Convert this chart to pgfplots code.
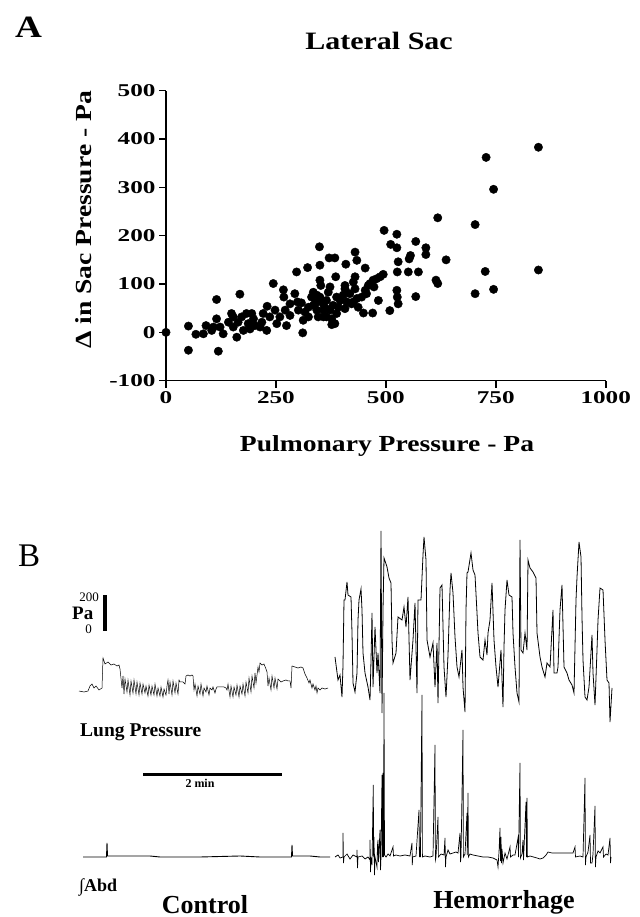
\documentclass[border=0pt]{standalone}
\usepackage{fontspec}
\setmainfont{Liberation Serif}
\newfontfamily\wide[FakeStretch=1.2]{Liberation Serif}
\newfontfamily\wider[FakeStretch=1.4]{Liberation Serif}
\usepackage{pgfplots}
\usepackage{pgfplotstable}
\pgfplotsset{compat=1.18}

% panel A: change in lateral sac pressure vs pulmonary pressure (Pa)
\pgfplotstableread{
x y
0 0
51 13
51 -37
68 -4
85 -3
91 14
104 4
108 11
115 68
115 28
119 -39
123 11
130 -3
142 21
149 39
153 11
153 32
161 -10
164 21
168 79
172 32
176 4
183 39
187 18
191 7
195 39
199 28
202 14
214 11
218 21
221 39
229 4
230 54
236 32
244 101
248 46
252 18
259 32
267 88
268 73
271 46
274 14
282 35
282 59
293 80
297 125
299 63
301 46
308 61
311 -1
312 25
316 42
322 134
324 32
324 52
331 73
335 56
335 83
339 59
343 77
343 63
343 46
346 32
349 177
350 139
350 108
350 73
352 97
354 63
358 46
358 59
358 32
364 49
365 66
365 32
369 83
371 154
373 94
373 46
377 16
377 28
380 56
384 154
384 18
386 115
388 73
388 39
392 52
396 66
403 77
407 97
407 49
407 90
409 141
411 63
418 80
422 59
426 63
426 104
430 166
430 115
430 90
434 149
434 70
437 52
445 73
449 40
453 133
453 87
456 80
460 97
464 101
470 40
471 108
473 94
479 111
483 66
487 115
494 120
496 211
509 45
511 182
525 203
525 175
525 87
526 125
526 73
528 146
528 59
551 125
553 152
556 159
568 188
568 74
574 125
591 175
591 161
614 108
618 101
618 237
637 150
703 223
703 80
726 126
728 362
745 296
745 89
847 383
847 129
}\sacdata

\begin{document}
\begin{tikzpicture}
\useasboundingbox (0,0) rectangle (639pt,917pt);

% ---------- panel A ----------
\node[anchor=base west, font=\wide\bfseries\fontsize{31}{31}\selectfont, inner sep=0] at (15pt,879pt) {A};
\node[anchor=base, font=\wide\bfseries\fontsize{25}{25}\selectfont, inner sep=0] at (379pt,867pt) {Lateral Sac};

\begin{axis}[
  at={(166pt,536.3pt)}, anchor=south west,
  scale only axis, width=439.7pt, height=290pt,
  xmin=0, xmax=1000, ymin=-100, ymax=500,
  axis lines*=left,
  axis line style={line width=1.6pt},
  tick style={line width=1.6pt, black},
  tick align=outside, major tick length=7pt,
  xtick={0,250,500,750,1000}, xticklabels={0,250,500,750,1000},
  ytick={-100,0,100,200,300,400,500}, yticklabels={-100,0,100,200,300,400,500},
  tick label style={font=\wider\bfseries\fontsize{18}{18}\selectfont},
  clip=false,
]
\addplot[only marks, mark=*, mark size=4.2pt, black] table {\sacdata};
\end{axis}

\node[anchor=base, font=\wide\bfseries\fontsize{23}{23}\selectfont, inner sep=0] at (387pt,465pt) {Pulmonary Pressure - Pa};
\node[anchor=base, rotate=90, font=\wide\bfseries\fontsize{23}{23}\selectfont, inner sep=0] at (91pt,697pt) {Δ in Sac Pressure - Pa};

% ---------- panel B ----------
\node[anchor=base west, font=\fontsize{33}{33}\selectfont, inner sep=0] at (18pt,350pt) {B};
\node[anchor=base east, font=\fontsize{13}{13}\selectfont, inner sep=0] at (99pt,315pt) {200};
\node[anchor=base west, font=\bfseries\fontsize{19}{19}\selectfont, inner sep=0] at (72pt,297pt) {Pa};
\node[anchor=base east, font=\fontsize{13}{13}\selectfont, inner sep=0] at (92pt,283pt) {0};
\node[anchor=base west, font=\bfseries\fontsize{19.5}{19.5}\selectfont, inner sep=0] at (80pt,180pt) {Lung Pressure};
\node[anchor=base, font=\bfseries\fontsize{12}{12}\selectfont, inner sep=0] at (200pt,129pt) {2 min};
\node[anchor=base west, font=\bfseries\fontsize{18}{18}\selectfont, inner sep=0] at (79pt,25pt) {∫Abd};
\node[anchor=base, font=\bfseries\fontsize{26}{26}\selectfont, inner sep=0] at (205pt,4pt) {Control};
\node[anchor=base, font=\bfseries\fontsize{26}{26}\selectfont, inner sep=0] at (504pt,9pt) {Hemorrhage};

% lung pressure traces (x: recording position, y: pressure, 36 units = 200 Pa)
\begin{axis}[
  at={(79pt,187pt)}, anchor=south west,
  scale only axis, width=536pt, height=205pt,
  xmin=79, xmax=615, ymin=-30, ymax=175,
  hide axis, clip=false,
]
\addplot[black, line width=0.5pt] coordinates {
(79,9) (84,8) (88,9) (90,14) (92,16) (94,12) (96,14) (99,10) (102,12) (103,42) (105,36) (108,38)
(111,35) (114,36) (117,34) (119,35) (120,31) (122,12) (123,24) (124,6) (125,21) (127,8) (128,20)
(130,5) (131,19) (133,7) (134,20) (136,6) (137,18) (139,5) (140,17) (142,6) (143,16) (145,7)
(146,14) (148,4) (149,15) (151,5) (152,14) (154,5) (155,16) (157,4) (158,12) (160,4) (161,13)
(163,3) (164,11) (166,5) (167,14) (168,20) (169,6) (170,18) (172,5) (173,19) (175,7) (176,17)
(178,6) (179,20) (180,18) (183,18) (185,16) (186,24) (188,25) (190,24) (192,25) (193,24) (194,10)
(195,16) (197,4) (198,14) (200,6) (201,16) (203,4) (204,12) (206,8) (207,14) (209,5) (210,12)
(212,10) (213,13) (215,7) (216,11) (217,13) (220,13) (224,13) (226,12) (227,10) (228,16) (230,3)
(231,14) (233,3) (234,13) (236,5) (237,15) (239,3) (240,14) (242,6) (243,16) (245,4) (246,18)
(248,7) (249,22) (251,8) (252,24) (254,12) (255,27) (256,17) (258,33) (259,28) (260,37)
(262,35) (264,36) (266,31) (267,28) (268,14) (269,22) (271,10) (272,24) (274,12) (275,22) (277,11)
(278,21) (279,20) (281,18) (283,19) (286,20) (288,19) (290,19) (291,12) (292,34) (295,33)
(298,32) (301,33) (303,32) (305,26) (307,22) (309,17) (310,20) (312,12) (313,16) (315,10) (316,14)
(317,7) (318,12) (320,10) (322,12) (325,11) (328,12)
};
\addplot[black, line width=0.8pt] coordinates {
(335,43) (338,20) (340,25) (342,3) (343,35) (344,100) (345,100) (347,118) (348,105) (351,103)
(352,67) (353,17) (355,8) (357,27) (358,80) (359,100) (361,111) (362,90) (363,47) (365,27) (368,13) (370,0)
(371,40) (372,87) (373,13) (375,73) (377,27) (378,47) (380,7) (381,169) (382,-13) (383,90) (384,142)
(387,133) (389,122) (391,117) (392,60) (393,37) (396,47) (398,83) (402,80) (404,93) (406,73)
(408,103) (410,20) (413,60) (415,97) (417,7) (418,100) (421,100) (423,145) (424,163) (426,140)
(427,60) (430,43) (433,57) (435,13) (437,57) (438,-3) (440,112) (442,115) (444,33) (446,3) (448,45)
(450,110) (451,127) (453,107) (455,63) (457,33) (459,23) (462,50) (463,13) (465,-12) (466,90) (467,127) (468,128)
(471,147) (473,130) (475,125) (477,87) (478,67) (480,43) (483,40) (485,60) (487,45) (488,67)
(490,80) (492,117) (494,60) (496,33) (498,13) (501,50) (503,-7) (504,53) (505,90) (507,120)
(509,105) (512,103) (513,67) (515,33) (517,7) (519,-2) (520,160) (521,50) (523,47) (525,67)
(527,50) (528,140) (530,132) (533,128) (536,122) (537,67) (540,43) (542,33) (545,23) (547,37)
(550,33) (553,90) (554,27) (557,27) (558,33) (560,90) (562,115) (564,33) (567,27) (569,20) (572,15)
(574,7) (576,100) (577,123) (579,158) (581,143) (582,83) (583,40) (585,3) (587,0) (589,13) (592,65)
(593,27) (595,-5) (597,50) (598,80) (600,112) (603,110) (605,60) (607,20) (609,17) (610,-22) (612,12)
};
% 200 Pa scale bar
\addplot[black, line width=3.5pt] coordinates {(105,69) (105,105)};
\end{axis}

% integrated abdominal EMG traces (arbitrary units)
\begin{axis}[
  at={(79pt,35pt)}, anchor=south west,
  scale only axis, width=536pt, height=192pt,
  xmin=79, xmax=615, ymin=-25, ymax=167,
  hide axis, clip=false,
]
\addplot[black, line width=0.9pt] coordinates {
(83,0) (106.5,0) (107,14) (107.5,1) (150,1) (160,0) (200,0) (240,1) (260,0) (291.5,0) (292,12) (292.5,1)
(310,1) (320,0) (330,0)
};
\addplot[black, line width=0.7pt] coordinates {
(335,0) (338,2) (340,-1) (343,0) (343,24) (343.5,-6) (344,0) (347,3) (350,-2) (353,2) (357,0)
(357,7) (357.5,-11) (358,0) (362,1) (365,-2) (368,0) (370,-3) (370,17) (370.5,-15) (371,0) (372,-8)
(373,55) (373.3,72) (373.6,0) (374,20) (374.5,-18) (375,0) (377,-10) (377.5,12) (378,17) (378.5,-5)
(380,27) (380.5,-13) (381,0) (382,82) (382.5,0) (383,84) (383.5,0) (384,164) (384.5,2) (386,0)
(388,3) (390,1) (393,10) (393.5,1) (396,2) (400,1) (405,2) (410,1) (412,14) (412.3,-8) (412.6,0)
(416,1) (419,47) (419.4,0) (420,10) (420.4,0) (422,162) (422.4,0) (425,1) (430,0) (433,1)
(435,112) (435.4,-3) (436,0) (438,40) (438.4,0) (441,3) (444,2) (445,19) (445.5,-10) (446,0)
(448,7) (450,3) (453,4) (456,5) (458,4) (460,24) (460.5,-5) (461,0) (463,127) (463.4,0) (465,3)
(467,44) (467.3,2) (468,64) (468.4,0) (470,3) (473,2) (478,1) (483,0) (488,0) (493,-1) (497,-3)
(498,-10) (499,5) (500,29) (500.5,-4) (501,20) (501.5,-6) (502,8) (503,-6) (505,4) (507,-2)
(510,10) (510.5,0) (513,2) (515,2) (518,19) (518.5,0) (520,94) (520.4,-1) (522,3) (523,17)
(523.5,-3) (526,55) (526.5,0) (527,59) (527.4,0) (530,1) (537,-1) (540,-2) (543,-1) (546,2)
(548,5) (552,4) (557,4) (565,4) (573,4) (575,10) (575.5,0) (580,1) (583,0) (585,79) (585.4,-8)
(586,0) (588,5) (590,22) (590.5,-6) (592,-6) (593,3) (595,51) (595.4,-10) (596,0) (598,6) (600,4)
(603,10) (603.5,0) (606,3) (608,2) (610,19) (610.5,-6) (611,0)
};
% 2 min time bar
\addplot[black, line width=3pt] coordinates {(143,82) (282,82)};
\end{axis}
\end{tikzpicture}
\end{document}
